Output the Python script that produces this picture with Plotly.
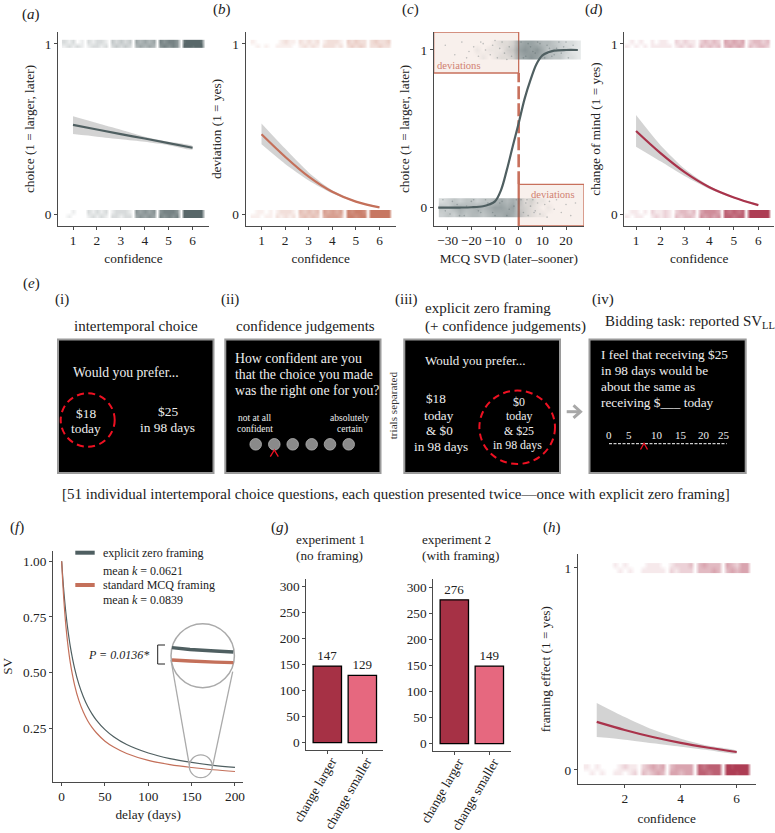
import plotly.graph_objects as go

W, H = 775, 833
SERIF = "Liberation Serif"
INK = "#222222"
AXC = "#4a4a4a"
DARK = "#4F5F61"
ORANGE = "#C4705A"
CRIM = "#A9334B"
BAND = "rgba(150,150,150,0.42)"
BOXE = "#C8705C"

conf = [1, 2, 3, 4, 5, 6]
a_mean = [.524, .497, .470, .444, .417, .390]
a_up = [.575, .535, .495, .455, .425, .400]
a_lo = [.470, .455, .440, .425, .405, .380]
b_mean = [.469, .337, .220, .131, .073, .039]
b_up = [.533, .385, .245, .140, .077, .041]
b_lo = [.410, .295, .198, .122, .069, .037]
d_mean = [.488, .358, .245, .158, .098, .053]
d_up = [.582, .405, .265, .165, .100, .056]
d_lo = [.396, .310, .222, .148, .093, .050]
h_mean = [.238, .198, .163, .134, .110, .089]
h_up = [.332, .262, .200, .155, .120, .095]
h_lo = [.163, .150, .132, .115, .098, .082]

# Density of the jittered 0/1 responses, read by eye: 5 cells per confidence level + a gap
a1 = [[1,2,1,2,1,0, 1,2,2,1,2,0, 2,3,2,3,2,0, 4,5,4,5,4,0, 6,7,6,7,6,0, 9,9,8,9,9,0],
      [2,1,2,0,1,0, 2,1,2,2,1,0, 3,2,3,2,3,0, 5,4,5,4,5,0, 7,6,7,7,6,0, 8,9,9,9,8,0]]
a0 = [[0,1,0,0,0,0, 1,2,1,2,1,0, 2,2,1,2,2,0, 5,6,5,6,5,0, 7,6,7,6,7,0, 9,9,9,9,9,0],
      [0,0,1,0,0,0, 2,1,2,1,2,0, 1,2,2,2,1,0, 6,5,6,5,6,0, 6,7,7,7,6,0, 9,9,9,9,9,0]]
b1 = [[0,1,0,1,0,0, 1,1,1,1,0,0, 1,2,1,2,1,0, 2,2,2,1,2,0, 2,3,2,3,2,0, 2,2,3,2,2,0],
      [1,0,0,0,0,0, 0,1,2,1,1,0, 2,1,2,1,2,0, 1,2,2,2,1,0, 3,2,3,2,2,0, 2,3,2,2,3,0]]
b0 = [[1,1,0,1,1,0, 2,1,2,1,2,0, 3,4,3,4,3,0, 5,6,6,6,5,0, 8,8,7,8,8,0, 9,9,9,9,9,0],
      [0,1,1,0,1,0, 1,2,2,2,1,0, 4,3,4,3,4,0, 6,5,6,5,6,0, 8,7,8,8,7,0, 9,9,9,9,9,0]]
d1 = [[1,0,1,0,1,0, 1,1,1,1,1,0, 1,2,1,2,1,0, 3,2,3,2,3,0, 3,4,3,4,3,0, 3,2,3,3,2,0],
      [0,1,0,1,0,0, 1,0,1,1,0,0, 2,1,2,1,1,0, 2,3,2,3,2,0, 4,3,4,3,4,0, 2,3,3,2,3,0]]
d0 = [[1,0,1,1,0,0, 1,2,1,2,1,0, 3,2,3,3,2,0, 5,4,5,4,5,0, 7,7,6,7,7,0, 9,9,9,9,9,0],
      [0,1,1,0,1,0, 2,1,1,2,1,0, 2,3,3,2,3,0, 4,5,5,5,4,0, 7,6,7,6,7,0, 9,9,9,9,9,0]]
h1 = [[0,0,0,0,0,0, 0,1,0,1,0,0, 1,1,1,1,1,0, 2,1,2,2,2,0, 3,3,3,4,3,0, 3,4,3,4,4,0],
      [0,0,0,0,0,0, 1,0,1,0,0,0, 0,1,1,1,0,0, 1,2,2,2,3,0, 3,4,3,3,3,0, 4,3,2,4,4,0]]
h0 = [[0,1,0,1,0,0, 1,1,0,1,2,0, 3,2,3,4,3,0, 4,4,3,4,4,0, 7,7,6,7,7,0, 9,9,8,9,9,0],
      [1,0,1,0,0,0, 0,1,2,1,1,0, 2,3,4,3,4,0, 3,4,4,4,4,0, 7,6,7,7,7,0, 9,8,9,9,9,0]]

# Panel c
c_x = [-34, -25, -20, -15, -12.5, -10, -7.5, -5, -2.5, 0, 2.5, 5, 7.5, 10, 12.5, 15, 20, 25]
c_y = [0, .001, .003, .009, .020, .040, .110, .240, .390, .535, .690, .810, .910, .965, .985, .996, 1, 1]
c_bins = [-32.5, -30, -27.5, -25, -22.5, -20, -17.5, -15, -12.5, -10, -7.5, -5, -2.5, 0, 2.5, 5, 7.5, 10, 12.5, 15, 17.5, 20, 22.5, 25]
c_top = [[0,0,0,0,0,0,0,1,0,1,2,2,3,7,8,9,8,7,6,5,5,3,3,2],
         [0,0,0,0,0,0,1,0,1,1,1,3,4,8,9,8,9,7,5,6,4,4,2,2],
         [0,0,0,0,0,0,0,0,0,1,2,2,3,7,8,8,7,6,6,5,4,3,3,2]]
c_bot = [[4,5,4,6,5,6,6,5,6,7,7,8,7,5,3,2,1,1,0,0,0,0,0,0],
         [5,4,6,7,6,6,7,6,7,8,8,7,8,4,3,2,1,0,1,0,0,0,0,0],
         [3,4,5,4,5,5,4,5,5,6,7,6,7,5,2,3,1,1,0,0,0,0,0,0]]
c_dots_x = [-31, -27, -24, -21, -19, -17, -15, -14, -12, -11, -9, -8, -7, -6, -4, -3, -22, -16, -10, -5,
            1, 2, 3, 4, 5, 6, 7, 8, 9, 11, 12, 13, 15, 16, 18, 20, 22, 24, 3.5, 6.5,
            1, 3, 5, 7, 9, 11, 13, 15, 17, 19, 21, 23, 2, 4, 6, 8, 10, 12, 14, 16, 18, 20,
            -32, -29, -26, -23, -20, -17, -14, -11, -8, -5, -2, -31, -28, -25, -22, -19, -16, -13, -10, -7, -4, -1]
c_dots_y = [1.03, .97, 1.05, .99, 1.02, .96, 1.04, 1.0, .97, 1.03, .95, 1.01, 1.05, .98, 1.02, .96, .95, 1.05, 1.06, .94,
            .05, -.03, .03, -.05, .01, .05, -.02, .03, -.04, .02, -.06, .04, -.01, .05, -.03, .02, -.05, .03, .05, -.03,
            1.05, .96, 1.02, .98, 1.04, .95, 1.01, .97, 1.05, 1.02, .95, 1.03, .95, 1.04, .99, 1.05, .97, 1.03, .96, 1.01, .98, 1.05,
            .05, -.04, .02, -.05, .04, -.02, .05, -.03, .03, -.05, .01, -.02, .04, -.05, .01, .05, -.03, .03, -.05, .04, -.01, .05]

# Panel f
delay = [0, 1, 2, 3, 5, 7, 10, 15, 20, 25, 30, 35, 40, 50, 60, 75, 100, 125, 150, 175, 200]
sv_zero = [1, .942, .889, .843, .763, .697, .617, .518, .446, .392, .349, .315, .287, .244, .212, .177, .139, .114, .097, .084, .075]
sv_mcq = [1, .923, .856, .799, .704, .630, .544, .443, .373, .323, .284, .254, .230, .192, .166, .137, .106, .087, .074, .064, .056]

# Panel g
g_cats = ["change larger", "change smaller"]
g_exp1 = [147, 129]
g_exp2 = [276, 149]
g_colors = ["#A63145", "#E6687F"]

cell_x = [lvl + off for lvl in conf for off in (-.37, -.185, 0, .185, .37, .5)]


def X(p):
    return p / W


def Y(p):
    return 1 - p / H


fig = go.Figure()
layout = dict(width=W, height=H, margin=dict(l=0, r=0, t=0, b=0, pad=0), autosize=False, template="none",
              paper_bgcolor="white", plot_bgcolor="rgba(0,0,0,0)", showlegend=False,
              font=dict(family=SERIF, size=13.3, color=INK), bargap=0.19)
shapes, notes = [], []


def axes(n, box, xr, yr, xticks, yticks, xtitle=None, ytitle=None, xs=6, ys=7, xkw=None, ykw=None):
    x0, x1, ytop, ybot = box
    sx = "" if n == 1 else str(n)
    base = dict(showgrid=False, zeroline=False, showline=True, linecolor=AXC, linewidth=1,
                ticks="outside", ticklen=3, tickwidth=1, tickcolor=AXC, automargin=False, tickangle=0,
                tickfont=dict(family=SERIF, size=13.3, color=INK), layer="above traces")
    xa = dict(base, domain=[X(x0), X(x1)], range=xr, anchor="y" + sx, tickmode="array", tickvals=xticks,
              ticklabelstandoff=-1)
    ya = dict(base, domain=[Y(ybot), Y(ytop)], range=yr, anchor="x" + sx, tickmode="array", tickvals=yticks)
    if xtitle:
        xa["title"] = dict(text=xtitle, standoff=xs, font=dict(family=SERIF, size=13.3, color=INK))
    if ytitle:
        ya["title"] = dict(text=ytitle, standoff=ys, font=dict(family=SERIF, size=13.3, color=INK))
    xa.update(xkw or {})
    ya.update(ykw or {})
    layout["xaxis" + sx] = xa
    layout["yaxis" + sx] = ya
    return "x" + sx, "y" + sx


def scale(color):
    r, g, b = int(color[1:3], 16), int(color[3:5], 16), int(color[5:7], 16)
    return [[0, f"rgba({r},{g},{b},0)"], [1, f"rgba({r},{g},{b},0.95)"]]


def strip(xa, ya, z, centre, half, color, x=None):
    fig.add_trace(go.Heatmap(x=x or cell_x, y=[centre - half / 2, centre + half / 2], z=z, zmin=0, zmax=8.5,
                             zsmooth="best", colorscale=scale(color), showscale=False, hoverinfo="skip",
                             xaxis=xa, yaxis=ya))


def fit(xa, ya, up, lo, mean, color, x=conf):
    fig.add_trace(go.Scatter(x=list(x) + list(x)[::-1], y=list(up) + list(lo)[::-1], fill="toself", fillcolor=BAND,
                             mode="lines", line=dict(width=0, shape="spline", smoothing=.7), hoverinfo="skip", xaxis=xa, yaxis=ya))
    fig.add_trace(go.Scatter(x=x, y=mean, mode="lines", line=dict(color=color, width=2.2, shape="spline"),
                             xaxis=xa, yaxis=ya))


def txt(x, y, s, size=13.3, color=INK, anchor="center", rot=0):
    notes.append(dict(xref="paper", yref="paper", x=X(x), y=Y(y), text=s, showarrow=False, textangle=rot,
                      font=dict(family=SERIF, size=size, color=color), xanchor=anchor, yanchor="middle"))


def rect(x0, y0, x1, y1, fill="black", line="#9a9a9a", w=2, layer="below"):
    shapes.append(dict(type="rect", xref="paper", yref="paper", x0=X(x0), x1=X(x1), y0=Y(y0), y1=Y(y1),
                       fillcolor=fill, line=dict(color=line, width=w), layer=layer))


def ell(cx, cy, rx, ry, line, w=1.5, fill="rgba(0,0,0,0)", dash="solid"):
    shapes.append(dict(type="circle", xref="paper", yref="paper", x0=X(cx - rx), x1=X(cx + rx), y0=Y(cy + ry), y1=Y(cy - ry),
                       fillcolor=fill, line=dict(color=line, width=w, dash=dash)))


def poly(pts, line, w=1.5):
    path = "M " + " L ".join(f"{X(a):.5f} {Y(b):.5f}" for a, b in pts)
    shapes.append(dict(type="path", xref="paper", yref="paper", path=path, line=dict(color=line, width=w)))


TOP01 = dict(yr=[-.07, 1.07], yticks=[0, 1])
# Panel a
xa, ya = axes(1, (58, 209, 32, 226), [.372, 6.69], TOP01["yr"], conf, [0, 1], "confidence", "choice (1 = larger, later)")
strip(xa, ya, a1, 1, .024, DARK); strip(xa, ya, a0, 0, .024, DARK)
fit(xa, ya, a_up, a_lo, a_mean, DARK)
# Panel b
xa, ya = axes(2, (245.5, 396, 32, 226), [.322, 6.7], TOP01["yr"], conf, [0, 1], "confidence", "deviation (1 = yes)")
strip(xa, ya, b1, 1, .024, ORANGE); strip(xa, ya, b0, 0, .024, ORANGE)
fit(xa, ya, b_up, b_lo, b_mean, ORANGE)
# Panel c
xa, ya = axes(3, (433.7, 584, 32, 226), [-35.9, 27.6], [-.116, 1.114], [-30, -20, -10, 0, 10, 20], [0, 1],
              "MCQ SVD (later–sooner)", "choice (1 = larger, later)")
for (x0, x1, y0, y1) in [(-35.9, 0, .854, 1.114), (0, 27.6, -.116, .148)]:
    shapes.append(dict(type="rect", xref="x3", yref="y3", x0=x0, x1=x1, y0=y0, y1=y1, fillcolor="#F8F0EC",
                       line=dict(color=BOXE, width=1.3), layer="below"))
shapes.append(dict(type="line", xref="x3", yref="y3", x0=0, x1=0, y0=.148, y1=.854,
                   line=dict(color=BOXE, width=2.6, dash="13px,4px"), layer="below"))
shapes.append(dict(type="line", xref="x3", yref="y3", x0=0, x1=0, y0=-.116, y1=.148,
                   line=dict(color=BOXE, width=2.2), layer="below"))
for z, centre in ((c_top, 1), (c_bot, 0)):
    fig.add_trace(go.Heatmap(x=c_bins, y=[centre - .04, centre, centre + .04], z=z, zmin=0, zmax=13, zsmooth="best",
                             colorscale=scale(DARK), showscale=False, hoverinfo="skip", xaxis=xa, yaxis=ya))
fig.add_trace(go.Scatter(x=c_dots_x, y=c_dots_y, mode="markers", marker=dict(size=1.6, color=DARK, opacity=.35),
                         hoverinfo="skip", xaxis=xa, yaxis=ya))
fig.add_trace(go.Scatter(x=c_x, y=c_y, mode="lines", line=dict(color=DARK, width=2.2, shape="spline"), xaxis=xa, yaxis=ya))
# Panel d
xa, ya = axes(4, (624.3, 774, 32, 226), [.52, 6.64], TOP01["yr"], conf, [0, 1], "confidence", "change of mind (1 = yes)")
strip(xa, ya, d1, 1, .024, CRIM); strip(xa, ya, d0, 0, .024, CRIM)
fit(xa, ya, d_up, d_lo, d_mean, CRIM)
# Panel f
xa, ya = axes(5, (53, 243.3, 551, 781.7), [-10, 209.6], [.0103, 1.046], [0, 50, 100, 150, 200], [.25, .5, .75, 1],
              "delay (days)", "SV", xs=7, ys=10, ykw=dict(tickformat=".2f"))
fig.add_trace(go.Scatter(x=delay, y=sv_zero, mode="lines", line=dict(color=DARK, width=1.2, shape="spline"), xaxis=xa, yaxis=ya))
fig.add_trace(go.Scatter(x=delay, y=sv_mcq, mode="lines", line=dict(color=ORANGE, width=1.2, shape="spline"), xaxis=xa, yaxis=ya))
# Panel g
for n, box, vals, yr, xr in ((6, (306.3, 383, 579, 750.3), g_exp1, [-14.6, 314], [.4, 2.59]),
                             (7, (433.3, 510.7, 579, 751.3), g_exp2, [-14.6, 316], [.4, 2.61])):
    xa, ya = axes(n, box, xr, yr, [1, 2], [0, 50, 100, 150, 200, 250, 300],
                  xkw=dict(ticktext=g_cats, tickangle=-60, ticklabelstandoff=-6, ticklabelshift=4))
    fig.add_trace(go.Bar(x=[1, 2], y=vals, marker=dict(color=g_colors, line=dict(color="black", width=1.3)),
                         width=.81, text=vals, textposition="outside", cliponaxis=False,
                         textfont=dict(family=SERIF, size=13, color=INK), xaxis=xa, yaxis=ya))
# Panel h
xa, ya = axes(8, (577.7, 755.7, 554, 784.3), [.32, 6.68], [-.071, 1.069], [2, 4, 6], [0, 1], "confidence", "framing effect (1 = yes)", xs=8, ys=10)
strip(xa, ya, h1, 1, .024, CRIM); strip(xa, ya, h0, 0, .028, CRIM)
fit(xa, ya, h_up, h_lo, h_mean, CRIM)

# Panel letters
for x, y, s in ((31, 14, "a"), (222, 9, "b"), (410, 9, "c"), (593.7, 9, "d"), (31, 283, "e"),
                (16.7, 527.7, "f"), (280, 527.7, "g"), (551.7, 527.7, "h")):
    txt(x, y, f"(<i>{s}</i>)", 15)

# Panel c labels
txt(459.3, 65.7, "deviations", 10.6, "#D08070")
txt(553.3, 194.3, "deviations", 10.6, "#D08070")

# Panel e
for x, y, s in ((61.5, 299.3, "(i)"), (230, 299.3, "(ii)"), (406.7, 299.3, "(iii)"), (603, 299.3, "(iv)")):
    txt(x, y, s, 15)
txt(135.5, 326, "intertemporal choice", 15)
txt(305.7, 326, "confidence judgements", 15)
txt(423.3, 308.3, "explicit zero framing", 15, anchor="left")
txt(423.3, 326, "(+ confidence judgements)", 15, anchor="left")
txt(603.3, 321.7, "Bidding task: reported SV<sub>LL</sub>", 15, anchor="left")
txt(395.7, 494.3, "[51 individual intertemporal choice questions, each question presented twice—once with explicit zero framing]", 15)
for box in ((58, 339.5, 213.5, 473), (225.3, 339.5, 380.5, 473), (404.3, 339.5, 560, 473), (589.5, 339.5, 745.7, 473)):
    rect(*box)
WH = "#eeeeee"
txt(126, 372.7, "Would you prefer...", 13.7, WH)
txt(85.7, 413.7, "$18", 13.4, WH); txt(85.7, 428, "today", 13.4, WH)
txt(167.7, 411.3, "$25", 13.4, WH); txt(167.7, 427.7, "in 98 days", 13.4, WH)
ell(87.7, 420, 27, 26.7, "#EE1122", 2, dash="7px,4.5px")
for y, s in ((358, "How confident are you"), (374, "that the choice you made"), (390, "was the right one for you?")):
    txt(233, y, s, 13.8, WH, "left")
txt(255.3, 418, "not at all", 9.5, WH); txt(255.3, 429, "confident", 9.5, WH)
txt(349.3, 418, "absolutely", 9.5, WH); txt(350, 429, "certain", 9.5, WH)
for cx in (255.7, 274.3, 292.7, 311.7, 330, 348.7):
    ell(cx, 444.3, 5.8, 5.8, "#b5b5b5", .8, fill="#8a8a8a")
poly([(270.3, 456.7), (274.3, 450), (278.3, 456.7)], "#EE1122", 1.3)
txt(393.3, 405, "trials separated", 11.2, "#333333", rot=-90)
txt(423.3, 360, "Would you prefer...", 13, WH, "left")
for x, y, s in ((436, 398.3, "$18"), (439.3, 415, "today"), (439.7, 430.7, "&amp; $0"), (441.3, 446.7, "in 98 days")):
    txt(x, y, s, 13.2, WH)
for x, y, s in ((519.3, 402, "$0"), (518.7, 416.3, "today"), (519.3, 430.7, "&amp; $25"), (517.3, 444.7, "in 98 days")):
    txt(x, y, s, 11.9, WH)
ell(517.2, 427.3, 37.8, 36.7, "#EE1122", 2, dash="7px,4.5px")
poly([(566.7, 411.7), (580, 411.7)], "#a8a8a8", 3)
poly([(573.5, 405.5), (580.5, 411.7), (573.5, 417.9)], "#a8a8a8", 3)
for y, s in ((354.7, "I feel that receiving $25"), (370.7, "in 98 days would be"), (386.7, "about the same as"),
             (402.7, "receiving $___ today")):
    txt(598.7, y, s, 13.3, WH, "left")
for x, s in ((609, "0"), (629.3, "5"), (657.3, "10"), (681, "15"), (704, "20"), (724.3, "25")):
    txt(x, 435, s, 11, WH)
shapes.append(dict(type="line", xref="paper", yref="paper", x0=X(609), x1=X(726.7), y0=Y(443.7), y1=Y(443.7),
                   line=dict(color="white", width=1, dash="3px,1.5px")))
poly([(640.5, 449.5), (644, 443.3), (647.5, 449.5)], "#EE1122", 1.3)

# Panel f annotations
poly([(75.3, 552.7), (94.7, 552.7)], DARK, 4)
poly([(75.3, 585), (94.7, 585)], ORANGE, 4)
txt(101.3, 552.7, "explicit zero framing", 12, anchor="left")
txt(101.3, 570.7, "mean <i>k</i> = 0.0621", 12, anchor="left")
txt(101.3, 585, "standard MCQ framing", 12, anchor="left")
txt(101.3, 600, "mean <i>k</i> = 0.0839", 12, anchor="left")
txt(86, 655.3, "<i>P = 0.0136*</i>", 12, anchor="left")
poly([(165, 645), (157.7, 645), (157.7, 664), (165, 664)], "#222222", 1)
poly([(171, 660), (189.3, 765)], "#aaaaaa", 1.3)
poly([(232.7, 671.7), (212.3, 767.7)], "#aaaaaa", 1.3)
ell(200.8, 766.3, 11.5, 11.4, "#aaaaaa", 1.3)
ell(202.7, 655.7, 31.7, 32, "#aaaaaa", 1.5, fill="white")
poly([(172, 647.7), (190, 649.5), (215, 651), (233.3, 652)], DARK, 3.3)
poly([(172, 660), (190, 661), (215, 662.2), (233.3, 662.7)], ORANGE, 3.3)

# Panel g titles
txt(294.3, 539.7, "experiment 1", 13.2, anchor="left")
txt(294.3, 555.7, "(no framing)", 13.2, anchor="left")
txt(420.3, 539.7, "experiment 2", 13.2, anchor="left")
txt(420.3, 555.7, "(with framing)", 13.2, anchor="left")

layout["shapes"] = shapes
layout["annotations"] = notes
fig.update_layout(**layout)
fig.write_html("out.html", post_script="document.body.style.margin='0';", config=dict(displayModeBar=False))
